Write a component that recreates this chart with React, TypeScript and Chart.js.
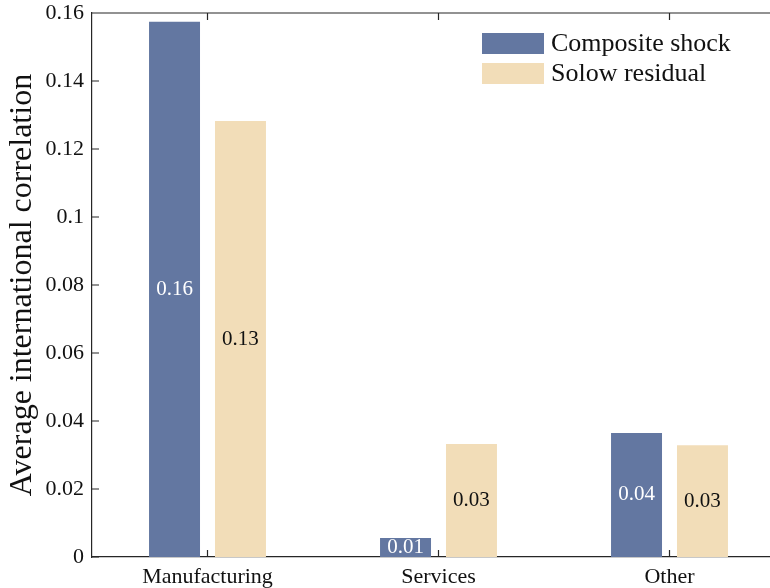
import { useEffect, useRef } from 'react';
import { Chart, registerables, Plugin } from 'chart.js';

Chart.register(...registerables);

const categories = ['Manufacturing', 'Services', 'Other'];
const compositeShock = [0.1574, 0.0056, 0.0365];
const solowResidual = [0.1282, 0.0332, 0.0329];
const seriesNames = ['Composite shock', 'Solow residual'];
const seriesColors = ['#6377A1', '#F2DDB8'];
const labelColors = ['#ffffff', '#111111'];

const FONT = '"Liberation Serif", "Times New Roman", serif';
const AXIS_COLOR = '#262626';

const fmtTick = (v: number) => String(parseFloat(v.toFixed(2)));

// inward ticks + top border + bar labels + legend inside the plot
const decorPlugin: Plugin = {
    id: 'decor',
    afterDraw(chart) {
        const ctx = chart.ctx;
        const { left, right, top, bottom } = chart.chartArea;
        const xs = chart.scales.x;
        const ys = chart.scales.y;
        ctx.save();
        ctx.strokeStyle = AXIS_COLOR;
        ctx.lineWidth = 1.2;
        ctx.beginPath();
        ctx.moveTo(left, top);
        ctx.lineTo(right, top);
        ys.ticks.forEach((_, i) => {
            const y = ys.getPixelForTick(i);
            ctx.moveTo(left, y);
            ctx.lineTo(left + 7, y);
        });
        xs.ticks.forEach((_, i) => {
            const x = xs.getPixelForTick(i);
            ctx.moveTo(x, bottom);
            ctx.lineTo(x, bottom - 7);
            ctx.moveTo(x, top);
            ctx.lineTo(x, top + 7);
        });
        ctx.stroke();

        // value labels centred in each bar
        ctx.font = `21px ${FONT}`;
        ctx.textAlign = 'center';
        ctx.textBaseline = 'middle';
        chart.data.datasets.forEach((ds, di) => {
            const meta = chart.getDatasetMeta(di);
            meta.data.forEach((el: any, j) => {
                const v = ds.data[j] as number;
                ctx.fillStyle = labelColors[di];
                ctx.fillText(v.toFixed(2), el.x, (el.y + el.base) / 2);
            });
        });

        // legend
        ctx.font = `26px ${FONT}`;
        ctx.textAlign = 'left';
        seriesNames.forEach((name, i) => {
            const bx = left + 390;
            const by = top + 20 + i * 30;
            ctx.fillStyle = seriesColors[i];
            ctx.fillRect(bx, by, 62, 21);
            ctx.fillStyle = '#111111';
            ctx.fillText(name, bx + 69, by + 11);
        });
        ctx.restore();
    },
};

const CorrelationChart = () => {
    const chartRef = useRef<HTMLCanvasElement | null>(null);

    useEffect(() => {
        const ctx = chartRef.current?.getContext('2d');
        if (!ctx) return;

        const myChart = new Chart(ctx, {
            type: 'bar',
            data: {
                labels: categories,
                datasets: [
                    {
                        label: seriesNames[0],
                        data: compositeShock,
                        backgroundColor: seriesColors[0],
                        categoryPercentage: 0.571,
                        barPercentage: 0.773,
                    },
                    {
                        label: seriesNames[1],
                        data: solowResidual,
                        backgroundColor: seriesColors[1],
                        categoryPercentage: 0.571,
                        barPercentage: 0.773,
                    },
                ],
            },
            options: {
                animation: false,
                responsive: true,
                maintainAspectRatio: false,
                layout: { padding: { top: 13, right: 15, left: 0, bottom: 0 } },
                plugins: {
                    legend: { display: false },
                    tooltip: { enabled: false },
                },
                scales: {
                    x: {
                        grid: { display: false, drawTicks: false },
                        border: { display: true, color: AXIS_COLOR, width: 1.2 },
                        ticks: { color: '#111111', font: { family: FONT, size: 22 }, padding: 7, maxRotation: 0 },
                        afterFit: (s: any) => {
                            s.height = 31;
                            s.paddingLeft = 0;
                            s.paddingRight = 0;
                        },
                    },
                    y: {
                        min: 0,
                        max: 0.16,
                        grid: { display: false, drawTicks: false },
                        border: { display: true, color: AXIS_COLOR, width: 1.2 },
                        ticks: {
                            stepSize: 0.02,
                            color: '#111111',
                            font: { family: FONT, size: 22 },
                            padding: 8,
                            callback: (v: any) => fmtTick(Number(v)),
                        },
                        title: {
                            display: true,
                            text: 'Average international correlation',
                            color: '#111111',
                            font: { family: FONT, size: 32 },
                            padding: { top: 3, bottom: 0 },
                        },
                        afterFit: (s: any) => {
                            s.width = 92;
                            s.paddingTop = 0;
                            s.paddingBottom = 0;
                        },
                    },
                },
            },
            plugins: [decorPlugin],
        });

        return () => {
            myChart.destroy();
        };
    }, []);

    return (
        <div style={{ position: 'fixed', left: 0, top: 0, width: 770, height: 588, overflow: 'hidden', background: '#fff' }}>
            <div style={{ position: 'relative', width: 800, height: 588 }}>
                <canvas ref={chartRef} />
            </div>
        </div>
    );
};

export default function App() {
    return <CorrelationChart />;
}
